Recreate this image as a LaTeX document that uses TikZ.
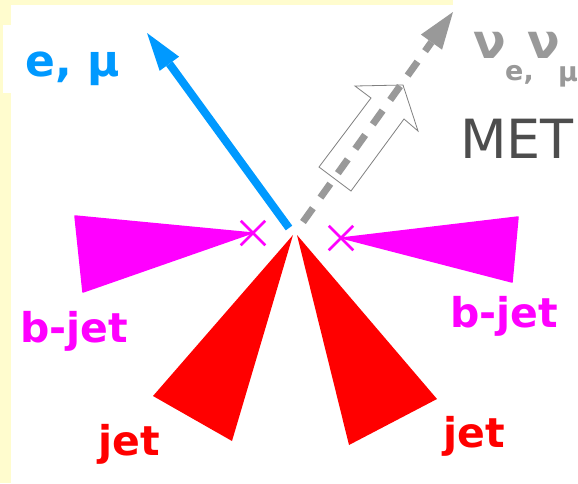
\documentclass[tikz,border=0pt]{standalone}
\usepackage{fontspec}
\setmainfont{DejaVu Sans}
\usetikzlibrary{arrows.meta,shapes.misc}
\definecolor{paleyellow}{RGB}{255,252,206}
\definecolor{leptonblue}{RGB}{0,153,255}
\definecolor{bjetpink}{RGB}{255,0,255}
\definecolor{jetred}{RGB}{255,0,0}
\definecolor{nugray}{RGB}{153,153,153}
\definecolor{metdark}{RGB}{77,77,77}
\definecolor{outlinegray}{RGB}{128,128,128}

\begin{document}
\begin{tikzpicture}[x=1pt, y=-1pt,
  lbl/.style={inner sep=0pt, anchor=base west},
  boldlbl/.style={lbl, font=\fontsize{41}{41}\selectfont\bfseries},
  bjetcone/.style={fill=bjetpink, draw=bjetpink, line width=1.5pt, line join=round},
  jetcone/.style={fill=jetred},
  vtxmark/.style={draw=bjetpink, cross out, line width=2.5pt, minimum size=22pt, inner sep=0pt}]
  \useasboundingbox (0,0) rectangle (578,483);
  \clip (0,0) rectangle (578,483);
  % slide background with the white text boxes
  \fill[paleyellow] (0,0) rectangle (578,483);
  \fill[white] (11,5) rectangle (578,483);
  \fill[white] (3,25) rectangle (130,93);
  \fill[white] (453,0) rectangle (578,95);

  \coordinate (lepstart) at (289,228);
  \coordinate (leptip) at (147,33);
  \coordinate (nustart) at (303,222);
  \coordinate (nutip) at (453,12);

  % jets and b-jets
  \fill[jetcone] (293,235) -- (153,396) -- (232,441) -- cycle;
  \fill[jetcone] (297,235) -- (437,399) -- (349,445) -- cycle;
  \path[bjetcone] (252,233) -- (75,216) -- (83,292) -- cycle;
  \path[bjetcone] (342,238) -- (518,217) -- (512,282) -- cycle;
  \node[vtxmark] (bvtxl) at (253,233) {};
  \node[vtxmark] (bvtxr) at (341,238) {};

  % missing transverse energy
  \filldraw[fill=white, draw=outlinegray, line width=0.8pt, line join=miter]
    (319,167) -- (351,191) -- (404,119) -- (418,131) -- (403,85)
    -- (355,86) -- (371,98) -- cycle;
  \draw[nugray, line width=7pt, dash pattern=on 17pt off 13pt,
    -{Triangle[length=37pt, width=26pt, line width=0pt]}] (nustart) -- (nutip);

  % lepton
  \draw[leptonblue, line width=8pt,
    -{Triangle[length=38pt, width=24pt, line width=0pt]}] (lepstart) -- (leptip);

  \node[lbl, leptonblue, font=\fontsize{44}{44}\selectfont\bfseries] (leplbl) at (25,76) {e, μ};
  \node[lbl, nugray, font=\fontsize{48}{48}\selectfont\bfseries] (nue) at (473,58) {ν};
  \node[lbl, nugray, font=\fontsize{27}{27}\selectfont\bfseries] (nuesub) at (505,80) {e,};
  \node[lbl, nugray, font=\fontsize{48}{48}\selectfont\bfseries] (numu) at (527,58) {ν};
  \node[lbl, nugray, font=\fontsize{27}{27}\selectfont\bfseries] (numusub) at (558,81) {μ};
  \node[lbl, metdark, font=\fontsize{54}{54}\selectfont] (metlbl) at (460,158) {MET};

  \node[boldlbl, bjetpink] (bjetl) at (20,342) {b-jet};
  \node[boldlbl, bjetpink] (bjetr) at (450,327) {b-jet};
  \node[boldlbl, jetred] (jetl) at (98,455) {jet};
  \node[boldlbl, jetred] (jetr) at (443,447) {jet};
\end{tikzpicture}
\end{document}
